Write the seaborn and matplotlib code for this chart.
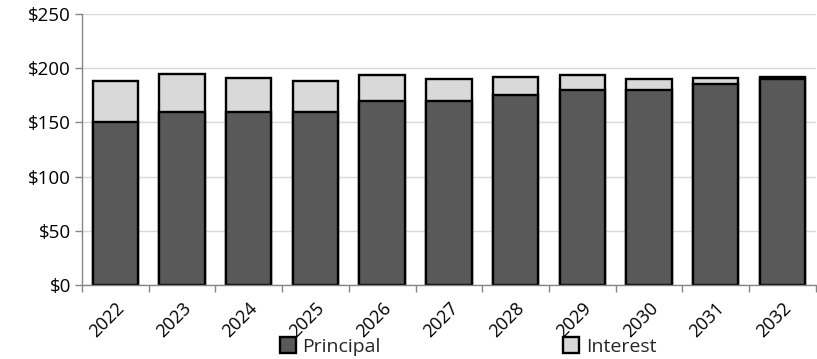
import numpy as np
import pandas as pd
import matplotlib
matplotlib.use("Agg")
import matplotlib.pyplot as plt
from matplotlib.patches import Patch
from matplotlib.ticker import FixedLocator, FuncFormatter
import seaborn as sns

years = ["2022", "2023", "2024", "2025", "2026", "2027", "2028", "2029", "2030", "2031", "2032"]
principal = [150, 160, 160, 160, 170, 170, 175, 180, 180, 185, 190]
interest = [38, 35, 31, 28, 24, 20, 17, 14, 10, 6, 2]
y_ticks = [0, 50, 100, 150, 200, 250]

df = pd.DataFrame({"year": years, "principal": principal, "interest": interest})
df["total"] = df["principal"] + df["interest"]

sns.set_theme(style="white")
plt.rcParams["font.family"] = ["Open Sans", "DejaVu Sans"]

PRINCIPAL_C = "#595959"
INTEREST_C = "#d9d9d9"

fig = plt.figure(figsize=(8.17, 3.59), dpi=100)
ax = fig.add_axes([0.1004, 0.206, 0.898, 0.755])

bar_kw = dict(width=0.68, edgecolor="black", linewidth=1.7, saturation=1)
sns.barplot(data=df, x="year", y="total", color=INTEREST_C, ax=ax, **bar_kw)
sns.barplot(data=df, x="year", y="principal", color=PRINCIPAL_C, ax=ax, **bar_kw)

ax.set_xlim(-0.5, len(years) - 0.5)
ax.set_ylim(0, 250)
ax.set_yticks(y_ticks)
ax.yaxis.set_major_formatter(FuncFormatter(lambda v, p: f"${v:.0f}"))
ax.set_xlabel("")
ax.set_ylabel("")

ax.yaxis.grid(True, color="#d9d9d9", linewidth=1.0)
ax.set_axisbelow(True)
for side in ("top", "right"):
    ax.spines[side].set_visible(False)
for side in ("left", "bottom"):
    ax.spines[side].set_color("#868686")
    ax.spines[side].set_linewidth(1.0)

ax.tick_params(axis="y", which="major", left=True, length=5, width=1, color="#868686",
               labelsize=13.5, pad=3, labelcolor="black")
ax.tick_params(axis="x", which="major", length=0, labelsize=13, pad=10, labelcolor="black")
ax.xaxis.set_minor_locator(FixedLocator(np.arange(-0.5, len(years), 1.0)))
ax.tick_params(axis="x", which="minor", bottom=True, length=5, width=1, color="#868686")
for lab in ax.get_xticklabels():
    lab.set_rotation(45)
    lab.set_ha("right")
    lab.set_rotation_mode("anchor")

handles = [Patch(facecolor=PRINCIPAL_C, edgecolor="black", linewidth=1.7, label="Principal"),
           Patch(facecolor=INTEREST_C, edgecolor="black", linewidth=1.7, label="Interest")]
fig.legend(handles=handles, loc="lower center", bbox_to_anchor=(0.573, -0.04), ncol=2,
           frameon=False, fontsize=14, handlelength=0.8, handleheight=0.9,
           handletextpad=0.35, columnspacing=9.4)

fig.savefig("out.png", dpi=100)
